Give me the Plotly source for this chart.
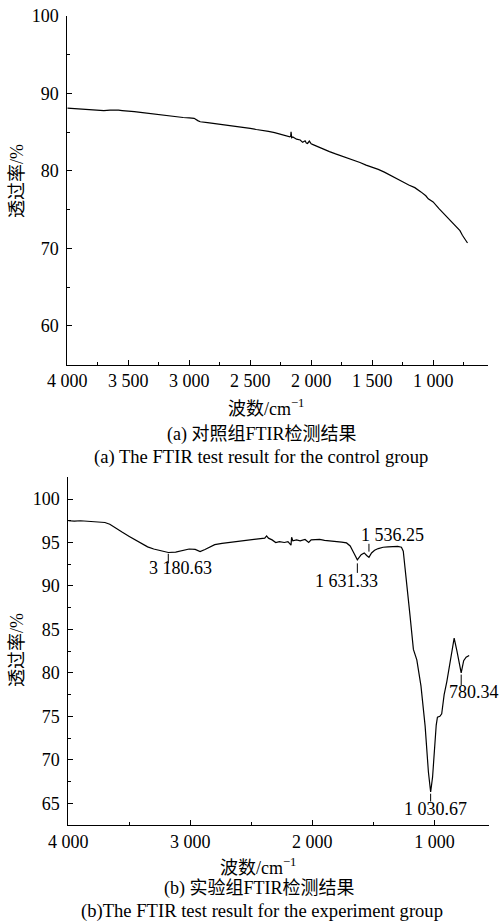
import plotly.graph_objects as go

# ---- (a) control group spectrum: wavenumber (cm^-1) vs transmittance (%)
wn_control = [4000, 3950, 3900, 3850, 3800, 3750, 3720, 3700, 3650, 3600, 3580, 3550,
              3500, 3450, 3400, 3350, 3300, 3250, 3200, 3150, 3100, 3050, 3000, 2960,
              2930, 2910, 2850, 2800, 2750, 2700, 2650, 2600, 2550, 2500, 2450, 2400,
              2350, 2300, 2250, 2200, 2175, 2168, 2165, 2160, 2150, 2120, 2090, 2070,
              2050, 2040, 2030, 2015, 2000, 1985, 1970, 1950, 1900, 1850, 1800, 1750,
              1700, 1650, 1600, 1550, 1500, 1450, 1400, 1350, 1300, 1250, 1200, 1150,
              1100, 1060, 1040, 1000, 950, 900, 850, 808, 780, 760, 740, 718]
tr_control = [88.10, 88.05, 88.05, 88.00, 87.95, 87.90, 87.85, 87.80, 87.85, 87.90, 87.85, 87.80,
              87.75, 87.65, 87.55, 87.45, 87.35, 87.25, 87.15, 87.05, 86.98, 86.90, 86.85, 86.80,
              86.50, 86.35, 86.25, 86.15, 86.00, 85.90, 85.80, 85.70, 85.60, 85.50, 85.35, 85.25,
              85.10, 84.95, 84.75, 84.50, 84.40, 84.50, 85.05, 84.30, 84.40, 84.10, 84.00, 83.70,
              83.90, 83.60, 83.55, 83.85, 83.50, 83.40, 83.30, 83.10, 82.80, 82.50, 82.20, 81.95,
              81.70, 81.40, 81.10, 80.75, 80.50, 80.20, 79.85, 79.40, 79.00, 78.60, 78.20, 77.85,
              77.30, 76.80, 76.40, 76.00, 75.10, 74.30, 73.50, 72.80, 72.30, 71.70, 71.20, 70.70]

# ---- (b) experiment group spectrum
wn_exp = [4000, 3950, 3900, 3850, 3800, 3750, 3700, 3660, 3620, 3560, 3500, 3450,
          3400, 3350, 3300, 3250, 3180.63, 3120, 3060, 3010, 2960, 2920, 2880, 2840,
          2800, 2740, 2680, 2620, 2560, 2500, 2440, 2390, 2375, 2360, 2330, 2300,
          2270, 2230, 2200, 2175, 2170, 2160, 2130, 2100, 2060, 2030, 2010, 1980,
          1940, 1900, 1850, 1800, 1760, 1720, 1690, 1660, 1631.33, 1600, 1575, 1555,
          1536.25, 1515, 1490, 1460, 1420, 1380, 1340, 1300, 1270, 1255, 1240, 1226,
          1199, 1172, 1144, 1110, 1090, 1076, 1049, 1030.67, 1015, 1000, 985, 975,
          955, 940, 920, 898, 871, 838, 815, 795, 780.34, 760, 740, 715]
tr_exp = [97.50, 97.45, 97.50, 97.45, 97.40, 97.40, 97.30, 97.10, 96.70, 96.20, 95.70, 95.30,
          94.90, 94.50, 94.25, 94.05, 93.85, 93.90, 94.10, 94.25, 94.20, 93.95, 94.20, 94.50,
          94.75, 94.90, 95.00, 95.05, 95.20, 95.30, 95.35, 95.50, 95.75, 95.50, 95.30, 95.00,
          95.10, 95.00, 95.10, 94.70, 95.60, 95.20, 95.30, 95.20, 95.35, 95.00, 95.30, 95.30,
          95.35, 95.25, 95.20, 95.10, 95.05, 94.95, 94.60, 93.80, 93.00, 93.60, 93.80, 93.50,
          93.30, 93.80, 94.10, 94.30, 94.45, 94.50, 94.50, 94.55, 94.45, 94.00, 92.00, 90.30,
          86.50, 82.70, 81.50, 78.50, 76.00, 73.90, 68.60, 66.30, 68.00, 71.50, 74.00, 74.90,
          75.00, 75.30, 77.50, 79.00, 81.50, 84.00, 82.50, 81.00, 80.00, 81.40, 81.80, 82.00]

# peak labels for (b): wavenumber, transmittance at tick start/end, label y, label x-shift (px)
peak_wn = [3180.63, 1631.33, 1536.25, 1030.67, 780.34]
peak_text = ["3 180.63", "1 631.33", "1 536.25", "1 030.67", "780.34"]
peak_tick_y0 = [93.7, 92.6, 94.85, 66.1, 79.8]
peak_tick_y1 = [92.6, 91.5, 93.95, 65.2, 78.6]
peak_label_y = [92.1, 90.55, 95.85, 64.35, 77.85]
peak_label_dx = [12, -11, 24, 5, 13]

# axis ticks
xa_ticks = [4000, 3500, 3000, 2500, 2000, 1500, 1000]
xa_text = ["4 000", "3 500", "3 000", "2 500", "2 000", "1 500", "1 000"]
xa_minor = [3750, 3250, 2750, 2250, 1750, 1250, 750]
ya_ticks = [60, 70, 80, 90, 100]
ya_minor = [65, 75, 85, 95]

xb_ticks = [4000, 3000, 2000, 1000]
xb_text = ["4 000", "3 000", "2 000", "1 000"]
xb_minor = [3500, 2500, 1500]
yb_ticks = [65, 70, 75, 80, 85, 90, 95, 100]
yb_minor = [67.5, 72.5, 77.5, 82.5, 87.5, 92.5, 97.5, 102.5]

W, H = 502, 924
FONT = "Liberation Serif, Times New Roman, Noto Sans CJK SC, serif"
FS = 18

fig = go.Figure()
fig.add_trace(go.Scatter(x=wn_control, y=tr_control, mode="lines", xaxis="x", yaxis="y",
                         line=dict(color="black", width=1.2), showlegend=False))
fig.add_trace(go.Scatter(x=wn_exp, y=tr_exp, mode="lines", xaxis="x2", yaxis="y2",
                         line=dict(color="black", width=1.2), showlegend=False))


def xaxis_cfg(dom, anchor, vals, text, minor):
    return dict(domain=dom, anchor=anchor, range=[4000, 550], showline=True, automargin=False,
                linecolor="black", linewidth=1, ticks="inside", ticklen=5,
                tickcolor="black", tickwidth=1, tickvals=vals, ticktext=text,
                minor=dict(tickvals=minor, ticks="inside", ticklen=3,
                           tickcolor="black", tickwidth=1, showgrid=False),
                showgrid=False, zeroline=False, tickfont=dict(family=FONT, size=FS, color="black"))


def yaxis_cfg(dom, anchor, rng, vals, minor):
    return dict(domain=dom, anchor=anchor, range=rng, showline=True, automargin=False,
                linecolor="black", linewidth=1, ticks="inside", ticklen=5,
                tickcolor="black", tickwidth=1, tickvals=vals, ticklabelstandoff=4,
                minor=dict(tickvals=minor, ticks="inside", ticklen=3,
                           tickcolor="black", tickwidth=1, showgrid=False),
                showgrid=False, zeroline=False, tickfont=dict(family=FONT, size=FS, color="black"))


fig.update_layout(
    width=W, height=H, autosize=False,
    margin=dict(l=0, r=0, t=0, b=0, autoexpand=False),
    paper_bgcolor="white", plot_bgcolor="white",
    xaxis=xaxis_cfg([67.3 / W, 488 / W], "y", xa_ticks, xa_text, xa_minor),
    yaxis=yaxis_cfg([1 - 364.7 / H, 1 - 16 / H], "x", [55, 100], ya_ticks, ya_minor),
    xaxis2=xaxis_cfg([68.3 / W, 489.3 / W], "y2", xb_ticks, xb_text, xb_minor),
    yaxis2=yaxis_cfg([1 - 825 / H, 1 - 477.3 / H], "x2", [62.5, 102.5], yb_ticks, yb_minor),
)

shapes = []
annotations = []
for wn, y0, y1, ly, dx, txt in zip(peak_wn, peak_tick_y0, peak_tick_y1, peak_label_y,
                                   peak_label_dx, peak_text):
    shapes.append(dict(type="line", xref="x2", yref="y2", x0=wn, x1=wn, y0=y0, y1=y1,
                       line=dict(color="black", width=1)))
    annotations.append(dict(x=wn, y=ly, xref="x2", yref="y2", text=txt, showarrow=False,
                            xanchor="center", yanchor="middle", xshift=dx,
                            font=dict(family=FONT, size=FS, color="black")))


def paper_text(txt, px, py, angle=0, size=FS):
    annotations.append(dict(x=px / W, y=1 - py / H, xref="paper", yref="paper", text=txt,
                            showarrow=False, xanchor="center", yanchor="middle",
                            textangle=angle, font=dict(family=FONT, size=size, color="black")))


paper_text("透过率/%", 17, 181, -90)
paper_text("波数/cm<sup>−1</sup>", 266, 407)
paper_text("(a) 对照组FTIR检测结果", 261, 435)
paper_text("(a) The FTIR test result for the control group", 261, 457, size=18.6)
paper_text("透过率/%", 17, 650, -90)
paper_text("波数/cm<sup>−1</sup>", 258, 866)
paper_text("(b) 实验组FTIR检测结果", 259, 888)
paper_text("(b)The FTIR test result for the experiment group", 262, 911, size=18.6)

fig.update_layout(shapes=shapes, annotations=annotations)

fig.write_html("out.html", config={"displayModeBar": False})
